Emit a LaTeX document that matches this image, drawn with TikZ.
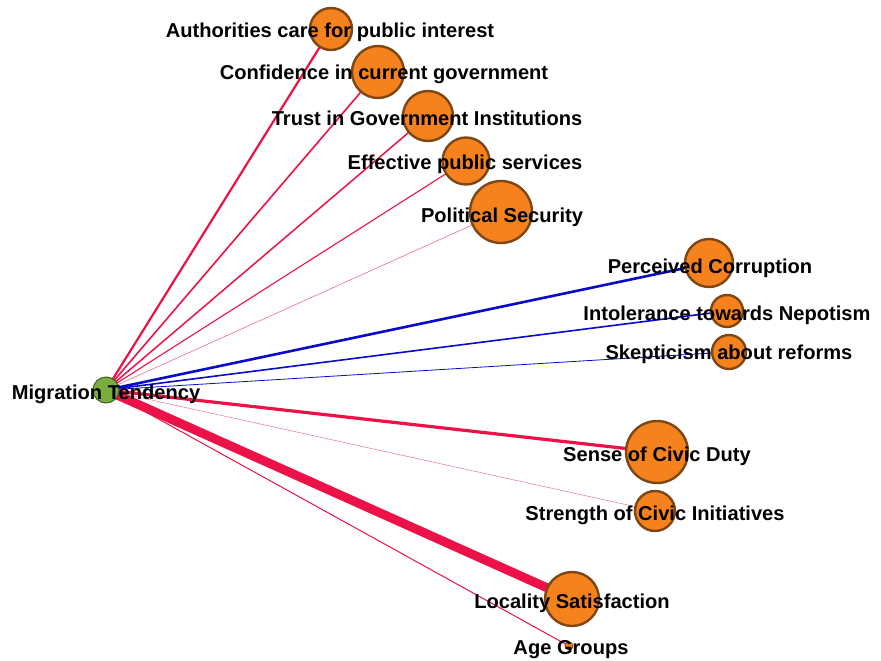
\documentclass[tikz,border=0pt]{standalone}
\usepackage{fontspec}
\setmainfont{Liberation Sans}
\usetikzlibrary{positioning}
\definecolor{edgered}{RGB}{236,18,72}
\definecolor{edgeblue}{RGB}{10,10,200}
\definecolor{factorfill}{RGB}{245,130,28}
\definecolor{factordraw}{RGB}{125,70,20}
\definecolor{targetfill}{RGB}{122,172,62}
\definecolor{targetdraw}{RGB}{70,95,35}
\pgfdeclarelayer{bg}
\pgfsetlayers{bg,main}

\begin{document}
\begin{tikzpicture}[
    x=1pt, y=-1pt,
    factor/.style={circle, draw=factordraw, fill=factorfill, line width=2.4pt, inner sep=0pt},
    target/.style={circle, draw=targetdraw, fill=targetfill, line width=1pt, inner sep=0pt, minimum size=26pt},
    lbl/.style={inner sep=0pt, font=\fontsize{20.1}{22}\selectfont\bfseries, text=black},
    negedge/.style={draw=edgered},
    posedge/.style={draw=edgeblue},
]
\useasboundingbox (0,0) rectangle (881,661);

% === Central node ===
\node[target] (mt) at (106,390) {};

% === Factor nodes ===
\node[factor, minimum size=42pt] (auth) at (331,29) {};
\node[factor, minimum size=52pt] (conf) at (378,72) {};
\node[factor, minimum size=50pt] (trust) at (428,116) {};
\node[factor, minimum size=47pt] (eff) at (466,161) {};
\node[factor, minimum size=62pt] (pol) at (501,212) {};
\node[factor, minimum size=48pt] (corr) at (709,263) {};
\node[factor, minimum size=32pt] (intol) at (727,311) {};
\node[factor, minimum size=34pt] (skep) at (729,352) {};
\node[factor, minimum size=62pt] (duty) at (657,452) {};
\node[factor, minimum size=40pt] (civic) at (655,511) {};
\node[factor, minimum size=54pt] (loc) at (572,599) {};
\node[factor, minimum size=8pt, line width=0.8pt] (age) at (569,646) {};

% === Edges (under the nodes) ===
\begin{pgfonlayer}{bg}
\draw[negedge, line width=2.2pt] (mt.center) -- (auth.center);
\draw[negedge, line width=1.6pt] (mt.center) -- (conf.center);
\draw[negedge, line width=1.5pt] (mt.center) -- (trust.center);
\draw[negedge, line width=1.1pt] (mt.center) -- (eff.center);
\draw[negedge, line width=0.5pt, draw opacity=0.7] (mt.center) -- (pol.center);
\draw[posedge, line width=2.6pt] (mt.center) -- (corr.center);
\draw[posedge, line width=1.6pt] (mt.center) -- (intol.center);
\draw[posedge, line width=0.8pt] (mt.center) -- (skep.center);
\draw[negedge, line width=3.2pt] (mt.center) -- (duty.center);
\draw[negedge, line width=0.5pt, draw opacity=0.6] (mt.center) -- (civic.center);
\draw[negedge, line width=9pt] (mt.center) -- (loc.center);
\draw[negedge, line width=1pt] (mt.center) -- (age.center);
\end{pgfonlayer}

% === Labels (over the nodes) ===
\node[lbl] (mtlbl) at (106,394) {Migration Tendency};
\node[lbl] (authlbl) at (330,32) {Authorities care for public interest};
\node[lbl] (conflbl) at (384,74) {Confidence in current government};
\node[lbl] (trustlbl) at (427,118) {Trust in Government Institutions};
\node[lbl] (efflbl) at (465,164) {Effective public services};
\node[lbl] (pollbl) at (502,217) {Political Security};
\node[lbl] (corrlbl) at (710,268) {Perceived Corruption};
\node[lbl] (intollbl) at (727,315) {Intolerance towards Nepotism};
\node[lbl] (skeplbl) at (729,354) {Skepticism about reforms};
\node[lbl] (dutylbl) at (657,456) {Sense of Civic Duty};
\node[lbl] (civiclbl) at (655,515) {Strength of Civic Initiatives};
\node[lbl] (loclbl) at (572,603) {Locality Satisfaction};
\node[lbl] (agelbl) at (571,650) {Age Groups};

\end{tikzpicture}
\end{document}
